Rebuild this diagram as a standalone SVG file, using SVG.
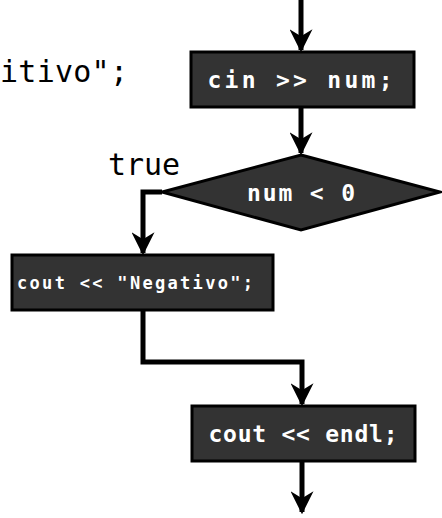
<svg xmlns="http://www.w3.org/2000/svg" width="442" height="518" viewBox="0 0 442 518">
<style>
.box{fill:#333;stroke:#000;stroke-width:3}
.lbl{font-family:"DejaVu Sans Mono","Liberation Mono",monospace;fill:#fff;font-size:23px;font-weight:bold;text-anchor:middle;dominant-baseline:central}
.ext{font-family:"DejaVu Sans Mono","Liberation Mono",monospace;fill:#000;font-size:30px}
.edge{fill:none;stroke:#000;stroke-width:5}
</style>
<defs>
<marker id="ah" viewBox="0 0 10 10" refX="9" refY="5" markerWidth="4.6" markerHeight="4.6" orient="auto" markerUnits="strokeWidth">
<path d="M0,0 L10,5 L0,10 L3,5 z" fill="#000"/>
</marker>
</defs>
<rect width="442" height="518" fill="#fff"/>
<text class="ext" x="0" y="82" textLength="128" lengthAdjust="spacing">itivo";</text>
<g id="edges">
<path class="edge" d="M301,0 V50" marker-end="url(#ah)"/>
<path class="edge" d="M301,107 V153" marker-end="url(#ah)"/>
<path class="edge" d="M162,192 H143 V253" marker-end="url(#ah)"/>
<path class="edge" d="M143,310 V362 H302 V404" marker-end="url(#ah)"/>
<path class="edge" d="M302,461 V512" marker-end="url(#ah)"/>
<text class="ext" x="108" y="175" textLength="72" lengthAdjust="spacing">true</text>
</g>
<g id="n1">
<rect class="box" x="191" y="52" width="223" height="55"/>
<text class="lbl" x="300" y="80" textLength="185" lengthAdjust="spacing">cin &gt;&gt; num;</text>
</g>
<g id="n2">
<polygon class="box" points="301,155 440,192 301,230 162,192"/>
<text class="lbl" x="301" y="193" textLength="108" lengthAdjust="spacing">num &lt; 0</text>
</g>
<g id="n3">
<rect class="box" x="12" y="255" width="261" height="55"/>
<text class="lbl" x="135" y="283" textLength="236" lengthAdjust="spacing" style="font-size:17px">cout &lt;&lt; "Negativo";</text>
</g>
<g id="n4">
<rect class="box" x="192" y="406" width="223" height="55"/>
<text class="lbl" x="303" y="434" textLength="189" lengthAdjust="spacing">cout &lt;&lt; endl;</text>
</g>
</svg>
